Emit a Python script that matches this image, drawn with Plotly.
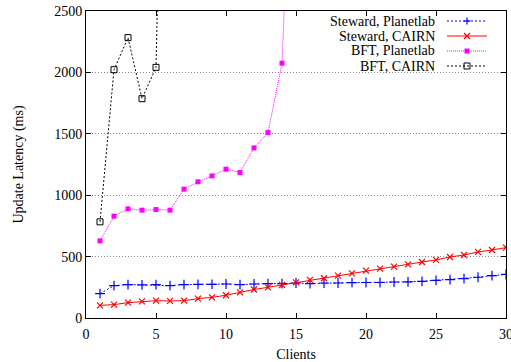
import plotly.graph_objects as go

clients = list(range(1, 31))
steward_planetlab = [198, 264, 272, 270, 272, 264, 272, 274, 274, 277, 272, 277,
                     280, 280, 285, 280, 285, 285, 288, 289, 289, 293, 294, 299,
                     307, 312, 321, 332, 345, 355]
steward_cairn = [103, 109, 125, 136, 141, 139, 141, 158, 168, 185, 209, 232,
                 250, 269, 290, 310, 324, 345, 364, 386, 402, 418, 437, 456,
                 473, 497, 513, 538, 554, 573]
bft_clients = list(range(1, 16))
bft_planetlab = [628, 829, 889, 878, 883, 878, 1049, 1109, 1157, 1212, 1185,
                 1385, 1510, 2075, 4800]
bft_cairn_clients = list(range(1, 7))
bft_cairn = [783, 2022, 2283, 1786, 2041, 7000]

x_ticks = [0, 5, 10, 15, 20, 25, 30]
y_ticks = [0, 500, 1000, 1500, 2000, 2500]

FONT = "Liberation Serif, Times New Roman, serif"

fig = go.Figure()
series = [
    ("Steward, Planetlab", clients, steward_planetlab, "#0000ff", "2px,2px", "cross-thin", 7, 1.2),
    ("Steward, CAIRN", clients, steward_cairn, "#ff0000", "solid", "x-thin", 6, 1.2),
    ("BFT, Planetlab", bft_clients, bft_planetlab, "#ff00ff", "1px,1px", "square", 5, 0),
    ("BFT, CAIRN", bft_cairn_clients, bft_cairn, "#000000", "2px,2px", "square-open", 6, 1),
]
for name, xs, ys, col, dash, sym, size, lw in series:
    fig.add_trace(go.Scatter(
        x=xs, y=ys, name=name, mode="lines+markers",
        line=dict(color=col, width=1, dash=dash),
        marker=dict(symbol=sym, size=size, color=col, line=dict(color=col, width=lw)),
        showlegend=False, cliponaxis=True,
    ))

# Manual legend (text on the left, sample on the right, gnuplot style)
def px_x(p):
    return (p - 86) / 420.0

def px_y(p):
    return (318 - p) / 307.0

shapes = [dict(type="rect", xref="paper", yref="paper",
               x0=px_x(279), x1=px_x(501), y0=px_y(80), y1=1.0,
               fillcolor="white", line=dict(width=0), layer="between")]
annotations = []
rows = [21, 36, 51, 66]
for (name, xs, ys, col, dash, sym, size, lw), rp in zip(series, rows):
    yp = px_y(rp)
    annotations.append(dict(text=name, x=px_x(437), y=yp, xref="paper", yref="paper",
                            xanchor="right", yanchor="middle", showarrow=False,
                            font=dict(family=FONT, size=14, color="black")))
    shapes.append(dict(type="line", xref="paper", yref="paper",
                       x0=px_x(447), x1=px_x(487), y0=yp, y1=yp,
                       line=dict(color=col, width=1, dash=dash)))
    mx = px_x(467)
    common = dict(xref="paper", yref="paper", xsizemode="pixel", ysizemode="pixel",
                  xanchor=mx, yanchor=yp)
    if sym == "cross-thin":
        shapes.append(dict(type="line", x0=-3.5, x1=3.5, y0=0, y1=0, line=dict(color=col, width=1.2), **common))
        shapes.append(dict(type="line", x0=0, x1=0, y0=-3.5, y1=3.5, line=dict(color=col, width=1.2), **common))
    elif sym == "x-thin":
        shapes.append(dict(type="line", x0=-3, x1=3, y0=-3, y1=3, line=dict(color=col, width=1.2), **common))
        shapes.append(dict(type="line", x0=-3, x1=3, y0=3, y1=-3, line=dict(color=col, width=1.2), **common))
    elif sym == "square":
        shapes.append(dict(type="rect", x0=-2.5, x1=2.5, y0=-2.5, y1=2.5, fillcolor=col, line=dict(width=0), **common))
    else:
        shapes.append(dict(type="rect", x0=-3, x1=3, y0=-3, y1=3, line=dict(color=col, width=1), **common))

fig.update_layout(
    width=511, height=362,
    margin=dict(l=86, r=5, t=11, b=44),
    paper_bgcolor="white", plot_bgcolor="white",
    font=dict(family=FONT, size=14, color="black"),
    showlegend=False,
    shapes=shapes, annotations=annotations,
    xaxis=dict(range=[0, 30], tickvals=x_ticks, ticktext=[str(v) for v in x_ticks],
               ticks="inside", ticklen=5, tickcolor="black", showline=True,
               linecolor="black", linewidth=1, mirror="allticks", showgrid=False,
               zeroline=False, automargin=False, ticklabelstandoff=3,
               ticklabeloverflow="allow",
               tickfont=dict(family=FONT, size=14),
               title=dict(text="Clients", font=dict(family=FONT, size=14), standoff=8)),
    yaxis=dict(range=[0, 2500], tickvals=y_ticks, ticktext=[str(v) for v in y_ticks],
               ticks="inside", ticklen=5, tickcolor="black", showline=True,
               linecolor="black", linewidth=1, mirror="allticks", showgrid=True,
               gridcolor="#888888", griddash="1px,2px", gridwidth=1, zeroline=False,
               automargin=False, ticklabeloverflow="allow",
               tickfont=dict(family=FONT, size=14),
               title=dict(text="Update Latency (ms)", font=dict(family=FONT, size=14), standoff=27)),
)

# remove the browser's default 8px body margin so the figure sits at the page origin
fig.write_html("out.html", config={"displayModeBar": False},
               post_script="document.body.style.margin='0px';")
